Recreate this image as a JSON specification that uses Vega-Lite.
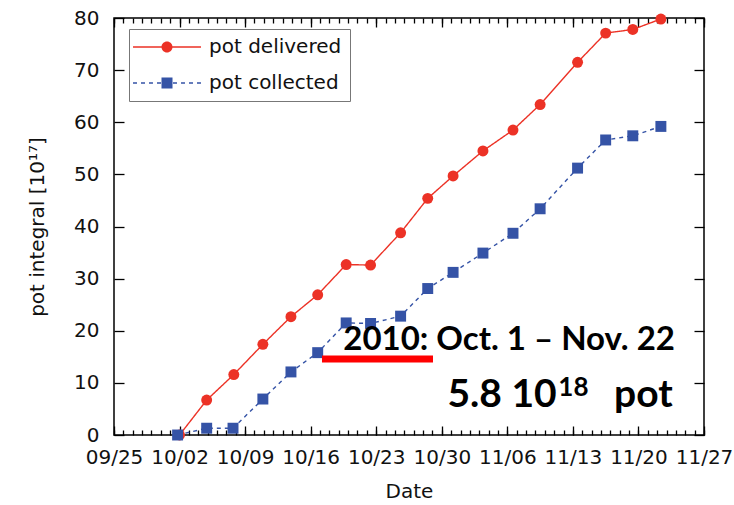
{
  "$schema": "https://vega.github.io/schema/vega-lite/v6.json",
  "width": 590,
  "height": 417,
  "autosize": {"type": "none"},
  "padding": {"left": 114, "top": 18, "right": 30, "bottom": 70},
  "background": "white",
  "config": {
    "view": {"stroke": "#000", "strokeWidth": 1.5},
    "axis": {"domain": false, "grid": false, "tickColor": "#000", "tickWidth": 1.3, "labelFont": "DejaVu Sans", "labelFontSize": 20, "labelColor": "#111", "titleFont": "DejaVu Sans", "titleFontWeight": "normal", "titleColor": "#111", "titleFontSize": 20, "labelFlush": false, "labelOverlap": false, "labelBound": false}
  },
  "datasets": {
    "pot": [
      {"date": "2010-10-02T00:00", "series": "pot delivered", "value": 0},
      {"date": "2010-10-04T21:30", "series": "pot delivered", "value": 6.7},
      {"date": "2010-10-07T19:00", "series": "pot delivered", "value": 11.6},
      {"date": "2010-10-10T21:30", "series": "pot delivered", "value": 17.4},
      {"date": "2010-10-13T21:30", "series": "pot delivered", "value": 22.7},
      {"date": "2010-10-16T18:00", "series": "pot delivered", "value": 26.9},
      {"date": "2010-10-19T19:00", "series": "pot delivered", "value": 32.7},
      {"date": "2010-10-22T09:30", "series": "pot delivered", "value": 32.6},
      {"date": "2010-10-25T14:30", "series": "pot delivered", "value": 38.8},
      {"date": "2010-10-28T12:00", "series": "pot delivered", "value": 45.4},
      {"date": "2010-10-31T05:00", "series": "pot delivered", "value": 49.7},
      {"date": "2010-11-03T09:30", "series": "pot delivered", "value": 54.5},
      {"date": "2010-11-06T14:30", "series": "pot delivered", "value": 58.5},
      {"date": "2010-11-09T12:00", "series": "pot delivered", "value": 63.4},
      {"date": "2010-11-13T12:00", "series": "pot delivered", "value": 71.5},
      {"date": "2010-11-16T12:00", "series": "pot delivered", "value": 77.1},
      {"date": "2010-11-19T09:30", "series": "pot delivered", "value": 77.8},
      {"date": "2010-11-22T09:30", "series": "pot delivered", "value": 79.8},
      {"date": "2010-10-01T19:00", "series": "pot collected", "value": 0},
      {"date": "2010-10-04T21:30", "series": "pot collected", "value": 1.3},
      {"date": "2010-10-07T17:00", "series": "pot collected", "value": 1.3},
      {"date": "2010-10-10T21:30", "series": "pot collected", "value": 6.9},
      {"date": "2010-10-13T21:30", "series": "pot collected", "value": 12.1},
      {"date": "2010-10-16T18:00", "series": "pot collected", "value": 15.8},
      {"date": "2010-10-19T19:00", "series": "pot collected", "value": 21.5},
      {"date": "2010-10-22T09:30", "series": "pot collected", "value": 21.4},
      {"date": "2010-10-25T14:30", "series": "pot collected", "value": 22.8},
      {"date": "2010-10-28T12:00", "series": "pot collected", "value": 28.1},
      {"date": "2010-10-31T05:00", "series": "pot collected", "value": 31.2},
      {"date": "2010-11-03T09:30", "series": "pot collected", "value": 34.9},
      {"date": "2010-11-06T14:30", "series": "pot collected", "value": 38.7},
      {"date": "2010-11-09T12:00", "series": "pot collected", "value": 43.4},
      {"date": "2010-11-13T12:00", "series": "pot collected", "value": 51.2},
      {"date": "2010-11-16T12:00", "series": "pot collected", "value": 56.6},
      {"date": "2010-11-19T09:30", "series": "pot collected", "value": 57.4},
      {"date": "2010-11-22T09:30", "series": "pot collected", "value": 59.2}
    ],
    "underline": [{"start": "2010-10-17T05:00", "end": "2010-10-29T01:30", "value": 14.6}],
    "period": [{"label": "2010: Oct. 1 – Nov. 22", "date": "2010-11-23T21:30", "value": 16.3}],
    "total": [
      {"label": "5.8 10", "date": "2010-11-11T06:30", "value": 5.43},
      {"label": "pot", "date": "2010-11-23T16:00", "value": 5.43}
    ],
    "exponent": [{"label": "18", "date": "2010-11-11T10:48", "value": 7.5}]
  },
  "resolve": {"axis": {"x": "independent", "y": "independent"}},
  "layer": [
    {
      "data": {"name": "pot"},
      "mark": {"type": "line", "strokeWidth": 1.4},
      "encoding": {
        "x": {"field": "date", "type": "temporal",
          "scale": {"domain": [{"year": 2010, "month": 9, "date": 25}, {"year": 2010, "month": 11, "date": 27}]},
          "axis": {"orient": "bottom", "format": "%m/%d", "tickSize": -9, "labelPadding": 21, "title": "Date", "titlePadding": 14,
            "values": [{"year": 2010, "month": 9, "date": 25}, {"year": 2010, "month": 10, "date": 2}, {"year": 2010, "month": 10, "date": 9}, {"year": 2010, "month": 10, "date": 16}, {"year": 2010, "month": 10, "date": 23}, {"year": 2010, "month": 10, "date": 30}, {"year": 2010, "month": 11, "date": 6}, {"year": 2010, "month": 11, "date": 13}, {"year": 2010, "month": 11, "date": 20}, {"year": 2010, "month": 11, "date": 27}]}},
        "y": {"field": "value", "type": "quantitative", "scale": {"domain": [0, 80]},
          "axis": {"orient": "left", "values": [0, 10, 20, 30, 40, 50, 60, 70, 80], "tickSize": -10, "labelPadding": 25, "title": "pot integral [10¹⁷]", "titleFontSize": 20, "titlePadding": 26}},
        "stroke": {"field": "series", "type": "nominal", "scale": {"range": ["#3553a6", "#ec3226"]}, "legend": null},
        "strokeDash": {"field": "series", "type": "nominal", "scale": {"range": [[4, 4], [1, 0]]}, "legend": null}
      }
    },
    {
      "data": {"name": "pot"},
      "transform": [{"filter": "datum.series === 'pot delivered'"}],
      "mark": {"type": "point", "shape": "circle", "filled": true, "size": 120, "opacity": 1, "color": "#ec3226"},
      "encoding": {
        "x": {"field": "date", "type": "temporal",
          "scale": {"domain": [{"year": 2010, "month": 9, "date": 25}, {"year": 2010, "month": 11, "date": 27}]},
          "axis": {"orient": "top", "labels": false, "tickSize": -9, "title": null,
            "values": [{"year": 2010, "month": 9, "date": 25}, {"year": 2010, "month": 10, "date": 2}, {"year": 2010, "month": 10, "date": 9}, {"year": 2010, "month": 10, "date": 16}, {"year": 2010, "month": 10, "date": 23}, {"year": 2010, "month": 10, "date": 30}, {"year": 2010, "month": 11, "date": 6}, {"year": 2010, "month": 11, "date": 13}, {"year": 2010, "month": 11, "date": 20}, {"year": 2010, "month": 11, "date": 27}]}},
        "y": {"field": "value", "type": "quantitative", "scale": {"domain": [0, 80]},
          "axis": {"orient": "right", "labels": false, "values": [0, 10, 20, 30, 40, 50, 60, 70, 80], "tickSize": -10, "title": null}}
      }
    },
    {
      "data": {"name": "pot"},
      "transform": [{"filter": "datum.series === 'pot collected'"}],
      "mark": {"type": "point", "shape": "square", "filled": true, "size": 120, "opacity": 1, "color": "#3553a6"},
      "encoding": {
        "x": {"field": "date", "type": "temporal", "scale": {"domain": [{"year": 2010, "month": 9, "date": 25}, {"year": 2010, "month": 11, "date": 27}]}, "axis": null},
        "y": {"field": "value", "type": "quantitative", "scale": {"domain": [0, 80]}, "axis": null}
      }
    },
    {
      "data": {"name": "pot"},
      "mark": {"type": "point", "filled": true, "size": 0, "opacity": 1},
      "encoding": {
        "x": {"field": "date", "type": "temporal", "scale": {"domain": [{"year": 2010, "month": 9, "date": 25}, {"year": 2010, "month": 11, "date": 27}]}, "axis": null},
        "y": {"field": "value", "type": "quantitative", "scale": {"domain": [0, 80]}, "axis": null},
        "color": {"field": "series", "type": "nominal", "scale": {"domain": ["pot delivered", "pot collected"], "range": ["#ec3226", "#3553a6"]},
          "legend": {
            "orient": "none", "legendX": 15, "legendY": 11, "title": null, "padding": 8,
            "strokeColor": "#777", "labelFont": "DejaVu Sans", "labelFontSize": 20, "labelColor": "#111", "rowPadding": 16,
            "symbolSize": 121, "symbolOpacity": 1, "symbolStrokeWidth": 0, "symbolOffset": 20, "labelOffset": 32
          }},
        "shape": {"field": "series", "type": "nominal", "scale": {"domain": ["pot delivered", "pot collected"], "range": [
          "M-6.18,-0.12H-0.95V0.12H-6.18ZM0.95,-0.12H6.18V0.12H0.95ZM1,0A1,1,0,1,1,-1,0A1,1,0,1,1,1,0Z",
          "M-6.18,-0.12H-5.45V0.12H-6.18ZM-4.73,-0.12H-4V0.12H-4.73ZM-3.27,-0.12H-2.55V0.12H-3.27ZM-1.82,-0.12H-1.09V0.12H-1.82ZM-1,-1H1V1H-1ZM1.09,-0.12H1.82V0.12H1.09ZM2.55,-0.12H3.27V0.12H2.55ZM4,-0.12H4.73V0.12H4ZM5.45,-0.12H6.18V0.12H5.45Z"
        ]}}
      }
    },
    {
      "data": {"name": "underline"},
      "mark": {"type": "rule", "color": "#ff0000", "strokeWidth": 7},
      "encoding": {
        "x": {"field": "start", "type": "temporal",
          "scale": {"domain": [{"year": 2010, "month": 9, "date": 25}, {"year": 2010, "month": 11, "date": 27}]},
          "axis": {"orient": "bottom", "labels": false, "tickSize": -5, "title": null, "tickCount": {"interval": "day", "step": 1}}},
        "x2": {"field": "end"},
        "y": {"field": "value", "type": "quantitative", "scale": {"domain": [0, 80]}, "axis": null}
      }
    },
    {
      "data": {"name": "period"},
      "mark": {"type": "text", "font": "Lato", "fontWeight": "bold", "fontSize": 33, "align": "right", "baseline": "alphabetic", "color": "#000"},
      "encoding": {
        "x": {"field": "date", "type": "temporal",
          "scale": {"domain": [{"year": 2010, "month": 9, "date": 25}, {"year": 2010, "month": 11, "date": 27}]},
          "axis": {"orient": "top", "labels": false, "tickSize": -5, "title": null, "tickCount": {"interval": "day", "step": 1}}},
        "y": {"field": "value", "type": "quantitative", "scale": {"domain": [0, 80]}, "axis": null},
        "text": {"field": "label"}
      }
    },
    {
      "data": {"name": "total"},
      "mark": {"type": "text", "font": "Lato", "fontWeight": "bold", "fontSize": 39, "align": "right", "baseline": "alphabetic", "color": "#000"},
      "encoding": {
        "x": {"field": "date", "type": "temporal", "scale": {"domain": [{"year": 2010, "month": 9, "date": 25}, {"year": 2010, "month": 11, "date": 27}]}, "axis": null},
        "y": {"field": "value", "type": "quantitative", "scale": {"domain": [0, 80]}, "axis": null},
        "text": {"field": "label"}
      }
    },
    {
      "data": {"name": "exponent"},
      "mark": {"type": "text", "font": "Lato", "fontWeight": "bold", "fontSize": 26, "align": "left", "baseline": "alphabetic", "color": "#000"},
      "encoding": {
        "x": {"field": "date", "type": "temporal", "scale": {"domain": [{"year": 2010, "month": 9, "date": 25}, {"year": 2010, "month": 11, "date": 27}]}, "axis": null},
        "y": {"field": "value", "type": "quantitative", "scale": {"domain": [0, 80]}, "axis": null},
        "text": {"field": "label"}
      }
    }
  ]
}
